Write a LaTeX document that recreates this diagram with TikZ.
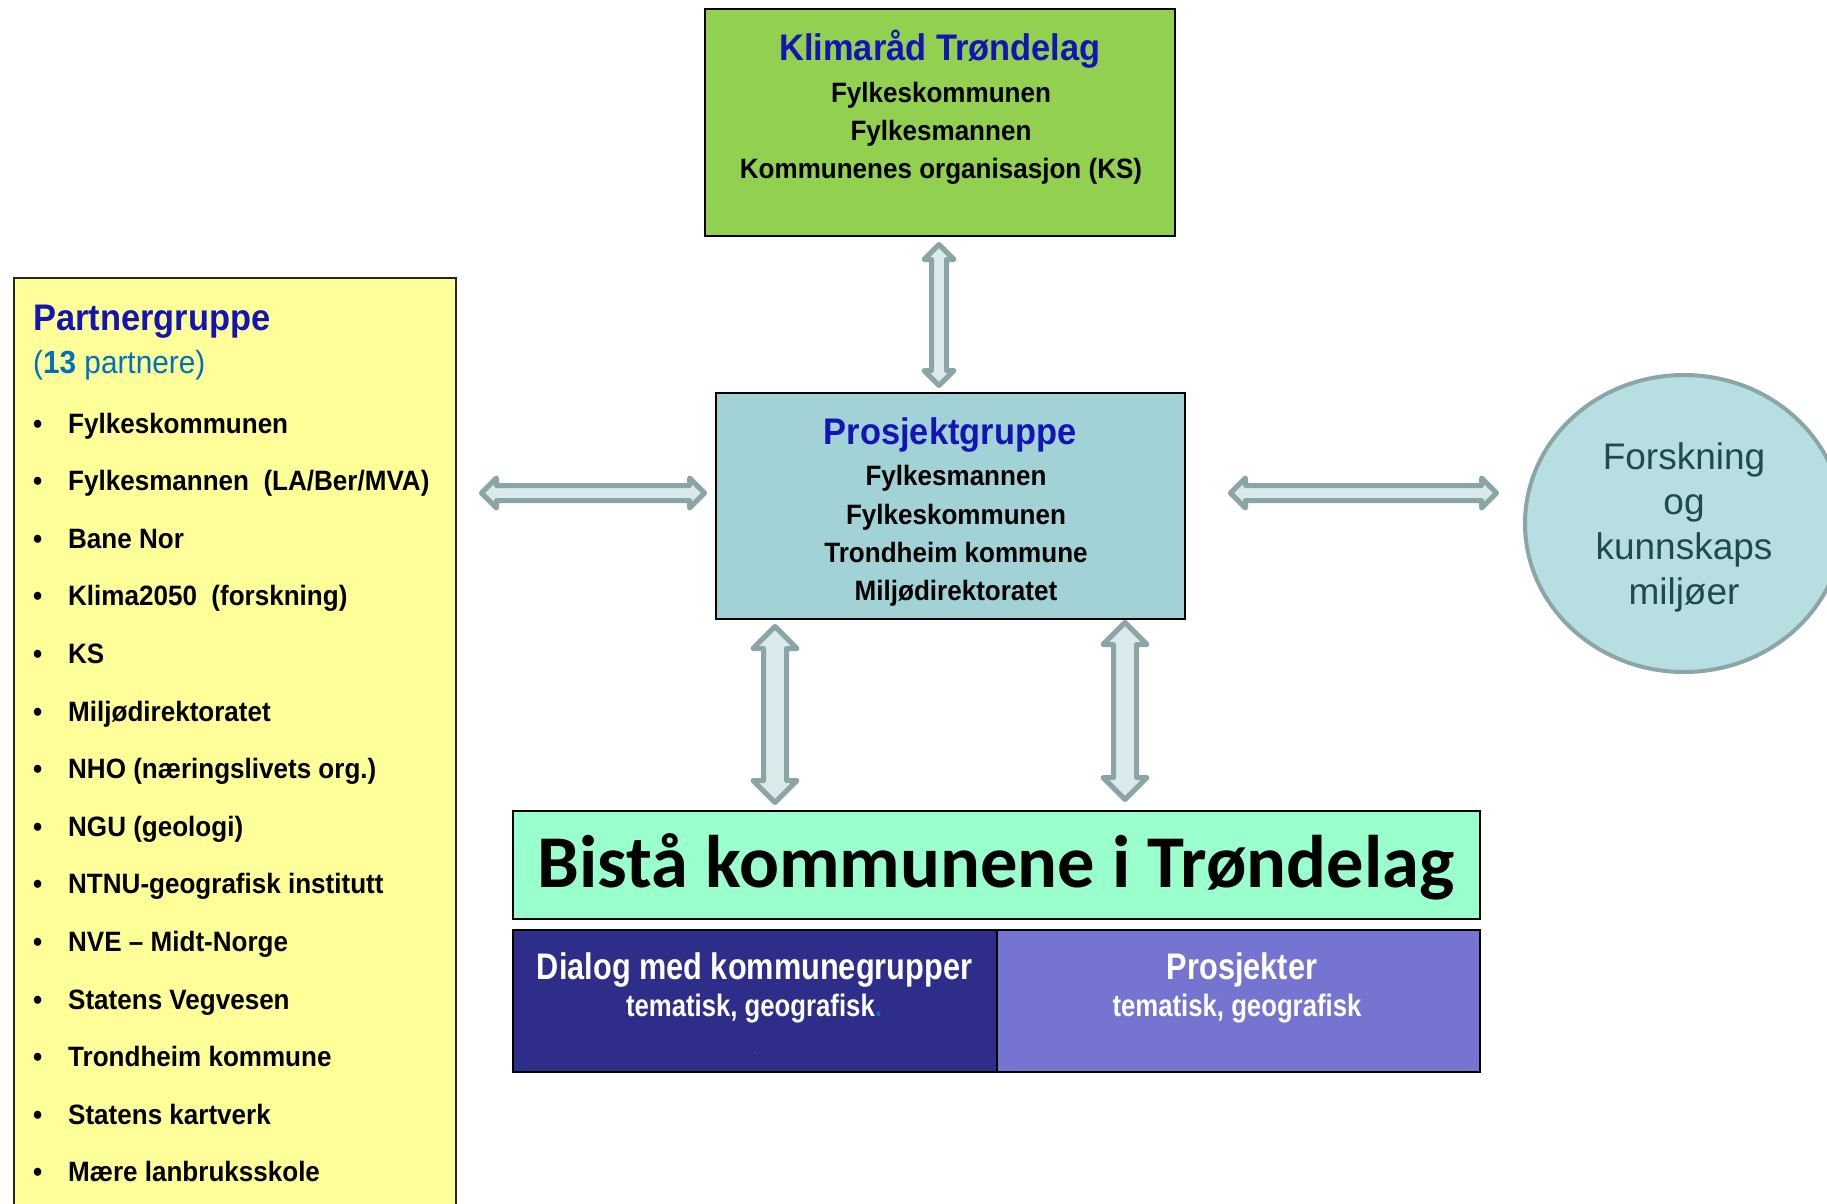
\documentclass[tikz,border=0pt]{standalone}
\usepackage{fontspec}
\setmainfont{Liberation Sans}
\newfontfamily\arialfont[FakeStretch=0.93]{Liberation Sans}
\newfontfamily\narrowfont[FakeStretch=0.83]{Liberation Sans}
\newfontfamily\calibrifont{Carlito}
\usetikzlibrary{calc,shapes.geometric}
\definecolor{klimagreen}{HTML}{92D050}
\definecolor{prosjblue}{HTML}{A0D2D6}
\definecolor{partneryellow}{HTML}{FFFF99}
\definecolor{partnerline}{HTML}{262626}
\definecolor{circlefill}{HTML}{B7DEE1}
\definecolor{circleline}{HTML}{8BA6A8}
\definecolor{bistagreen}{HTML}{99FFCC}
\definecolor{dialognavy}{HTML}{2E2E8A}
\definecolor{prosjpurple}{HTML}{7575D1}
\definecolor{titleblue}{HTML}{1414B4}
\definecolor{subblue}{HTML}{0070C0}
\definecolor{circletext}{HTML}{1F4B4B}
\definecolor{arrowfill}{HTML}{DAEAEA}
\definecolor{arrowline}{HTML}{8BA5A7}
% fat double arrow: start, end, half head width, half shaft width
\newcommand\dblarrow[4]{%
  \draw[fatarrow] let \p1=(#1), \p2=(#2),
    \n1={atan2(\y2-\y1,\x2-\x1)}, \n2={veclen(\x2-\x1,\y2-\y1)} in
    {[shift={(\p1)},rotate=\n1]
    (0pt,0pt) -- (#3pt,#3pt) -- (#3pt,#4pt) -- (\n2-#3pt,#4pt) -- (\n2-#3pt,#3pt)
    -- (\n2,0pt) -- (\n2-#3pt,-#3pt) -- (\n2-#3pt,-#4pt) -- (#3pt,-#4pt) -- (#3pt,-#3pt) -- cycle};}
\begin{document}
\begin{tikzpicture}[x=1pt,y=-1pt,
  box/.style={draw=black,line width=2pt,inner sep=0pt},
  titletxt/.style={font=\arialfont\bfseries\fontsize{37}{44}\selectfont,text=titleblue,anchor=base,inner sep=0pt},
  bodytxt/.style={font=\arialfont\bfseries\fontsize{28}{34}\selectfont,anchor=base,inner sep=0pt},
  itemtxt/.style={bodytxt,anchor=base west,execute at begin node={\makebox[35pt][l]{•}}},
  circtxt/.style={font=\fontsize{37}{45}\selectfont,text=circletext,anchor=base,inner sep=0pt},
  lowtitle/.style={font=\narrowfont\bfseries\fontsize{37}{44}\selectfont,text=white,anchor=base,inner sep=0pt},
  lowsub/.style={font=\narrowfont\bfseries\fontsize{31}{36}\selectfont,text=white,anchor=base,inner sep=0pt},
  fatarrow/.style={draw=arrowline,fill=arrowfill,line width=5pt,line join=round}]
\useasboundingbox (0,0) rectangle (1827,1203);
\fill[white] (0,0) rectangle (1827,1203);
\clip (0,0) rectangle (1827,1203);
% boxes
\node[box,fill=klimagreen,minimum width=470pt,minimum height=227pt] (klima) at (940,122.5) {};
\node[box,fill=prosjblue,minimum width=469pt,minimum height=226pt] (prosj) at (950.5,506) {};
\node[box,draw=partnerline,fill=partneryellow,minimum width=442pt,minimum height=960pt,anchor=north west] (partner) at (13,277) {};
\node[ellipse,draw=circleline,fill=circlefill,line width=4pt,minimum width=318pt,minimum height=297pt,inner sep=0pt] (forsk) at (1684,523.5) {};
\node[box,fill=bistagreen,minimum width=967pt,minimum height=108pt] (bista) at (996.5,865) {};
\node[box,fill=dialognavy,minimum width=484pt,minimum height=142pt] (dialog) at (755,1001) {};
\node[box,fill=prosjpurple,minimum width=483pt,minimum height=142pt] (prosjekter) at (1238.5,1001) {};
% Klimaraad
\node[titletxt] (klimatitle) at (940,60) {Klimaråd Trøndelag};
\node[bodytxt] (klima1) at (941,102) {Fylkeskommunen};
\node[bodytxt] (klima2) at (941,140) {Fylkesmannen};
\node[bodytxt] (klima3) at (941,178) {Kommunenes organisasjon (KS)};
% Prosjektgruppe
\node[titletxt] (prosjtitle) at (950,444) {Prosjektgruppe};
\node[bodytxt] (prosj1) at (956,485) {Fylkesmannen};
\node[bodytxt] (prosj2) at (956,524) {Fylkeskommunen};
\node[bodytxt] (prosj3) at (956,562) {Trondheim kommune};
\node[bodytxt] (prosj4) at (956,600) {Miljødirektoratet};
% Partnergruppe
\node[titletxt,anchor=base west] (partnertitle) at (33,330) {Partnergruppe};
\node[anchor=base west,inner sep=0pt,text=subblue,font=\arialfont\fontsize{32}{38}\selectfont] (partnersub) at (33,373) {(\textbf{13} partnere)};
\node[itemtxt] (p1) at (33,433) {Fylkeskommunen};
\node[itemtxt] (p2) at (33,490.6) {Fylkesmannen\ \ (LA/Ber/MVA)};
\node[itemtxt] (p3) at (33,548.2) {Bane Nor};
\node[itemtxt] (p4) at (33,605.8) {Klima2050\ \ (forskning)};
\node[itemtxt] (p5) at (33,663.4) {KS};
\node[itemtxt] (p6) at (33,721) {Miljødirektoratet};
\node[itemtxt] (p7) at (33,778.6) {NHO (næringslivets org.)};
\node[itemtxt] (p8) at (33,836.2) {NGU (geologi)};
\node[itemtxt] (p9) at (33,893.8) {NTNU-geografisk institutt};
\node[itemtxt] (p10) at (33,951.4) {NVE – Midt-Norge};
\node[itemtxt] (p11) at (33,1009) {Statens Vegvesen};
\node[itemtxt] (p12) at (33,1066.6) {Trondheim kommune};
\node[itemtxt] (p13) at (33,1124.2) {Statens kartverk};
\node[itemtxt] (p14) at (33,1181.8) {Mære lanbruksskole};
% Forskning
\node[circtxt] (forsk1) at (1684,469) {Forskning};
\node[circtxt] (forsk2) at (1684,514) {og};
\node[circtxt] (forsk3) at (1684,559) {kunnskaps};
\node[circtxt] (forsk4) at (1684,604) {miljøer};
% Bista
\node[anchor=base,inner sep=0pt,font=\calibrifont\bfseries\fontsize{74.5}{80}\selectfont] (bistatxt) at (996,887) {Bistå kommunene i Trøndelag};
\node[lowtitle] (dialogtitle) at (754.5,979) {Dialog med kommunegrupper};
\node[lowsub] (dialogsub) at (754,1016) {tematisk, geografisk\textcolor{subblue}{.}};
\node[text=subblue,font=\fontsize{14}{16}\selectfont,anchor=base,inner sep=0pt] (dialogdot) at (755,1054) {.};
\node[lowtitle] (prosjtittel) at (1242,979) {Prosjekter};
\node[lowsub] (prosjsub) at (1237,1016) {tematisk, geografisk};
% arrows
\coordinate (top1) at ($(klima.south)+(-1,7.5)$);
\coordinate (top2) at ($(top1 |- prosj.north)+(0,-6.5)$);
\coordinate (left2) at ($(prosj.west)+(-10.5,-13)$);
\coordinate (left1) at ($(partner.east |- left2)+(24.5,0)$);
\coordinate (right1) at ($(prosj.east)+(44.5,-13)$);
\coordinate (right2) at ($(forsk.west |- right1)+(-26.5,0)$);
\coordinate (low1a) at ($(prosj.south west)+(60,6.5)$);
\coordinate (low1b) at ($(low1a |- bista.north)+(0,-7.5)$);
\coordinate (low2a) at ($(prosj.south east)+(-61,2.5)$);
\coordinate (low2b) at ($(low2a |- bista.north)+(0,-10.5)$);
\dblarrow{top1}{top2}{15}{7.5}
\dblarrow{left1}{left2}{15}{7.5}
\dblarrow{right1}{right2}{15}{7.5}
\dblarrow{low1a}{low1b}{22}{11.5}
\dblarrow{low2a}{low2b}{22}{11.5}
\end{tikzpicture}
\end{document}
